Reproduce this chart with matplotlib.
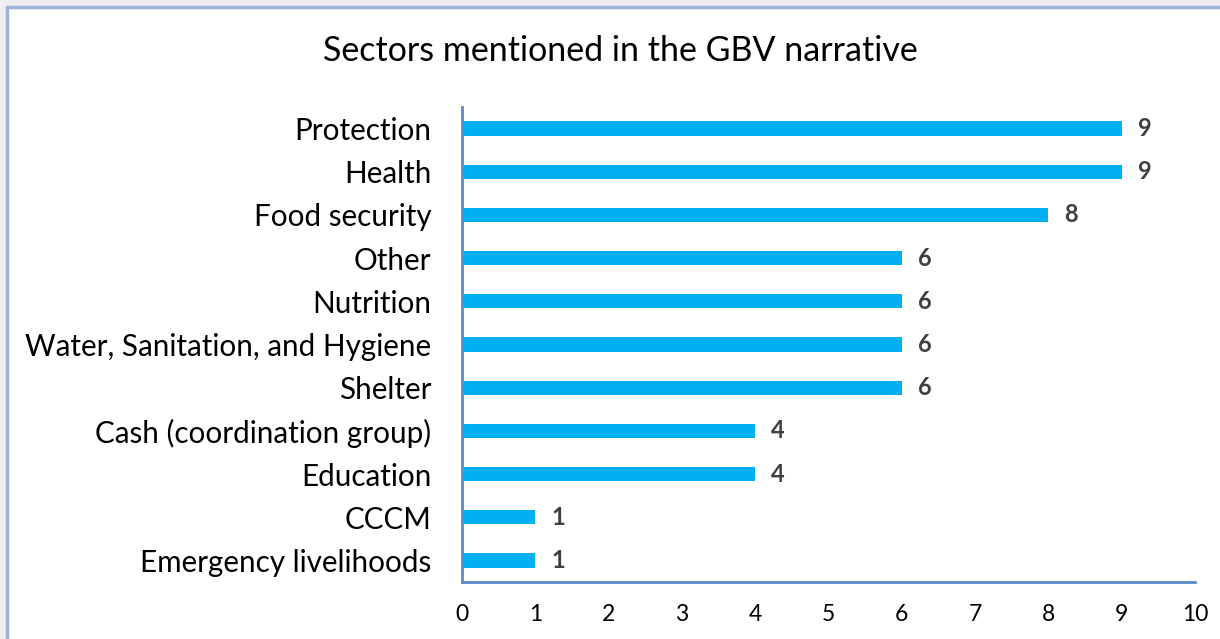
import matplotlib.pyplot as plt
from matplotlib.patches import Rectangle

sectors = ['Protection', 'Health', 'Food security', 'Other', 'Nutrition',
           'Water, Sanitation, and Hygiene', 'Shelter',
           'Cash (coordination group)', 'Education', 'CCCM',
           'Emergency livelihoods']
counts = [9, 9, 8, 6, 6, 6, 6, 4, 4, 1, 1]

plt.rcParams['font.family'] = ['Lato', 'DejaVu Sans']

fig = plt.figure(figsize=(12.2, 6.39), dpi=100)
fig.patch.set_facecolor('#F0EEF0')
# white chart area with a light blue frame
frame = Rectangle((7 / 1220, -0.05), 1.1, 1 - 7 / 639 + 0.05,
                  transform=fig.transFigure, facecolor='white',
                  edgecolor='#9BB4DB', linewidth=2.5, zorder=-10)
fig.patches.append(frame)

ax = fig.add_axes([462 / 1220, 57 / 639, 733 / 1220, 475 / 639])
ax.set_zorder(5)
ax.set_facecolor('none')
y = list(range(len(sectors)))
ax.barh(y, counts, height=0.33, color='#00B0F0')
for yi, v in zip(y, counts):
    ax.text(v + 0.22, yi, str(v), va='center', ha='left', fontsize=17,
            fontweight='bold', color='#404040')

ax.set_xlim(0, 10)
ax.set_ylim(len(sectors) - 0.5, -0.5)
ax.set_yticks(y)
ax.set_yticklabels(sectors, fontsize=21.3)
ax.set_xticks(range(11))
ax.tick_params(axis='both', length=0)
ax.tick_params(axis='y', pad=22)
ax.tick_params(axis='x', pad=16, labelsize=16.5)
for s in ['top', 'right']:
    ax.spines[s].set_visible(False)
for s in ['left', 'bottom']:
    ax.spines[s].set_color('#5B8BC9')
    ax.spines[s].set_linewidth(2)

fig.text(620 / 1220, 1 - 51 / 639, 'Sectors mentioned in the GBV narrative',
         ha='center', va='center', fontsize=24.5, zorder=6)

fig.savefig('out.png', dpi=100, facecolor=fig.get_facecolor())
